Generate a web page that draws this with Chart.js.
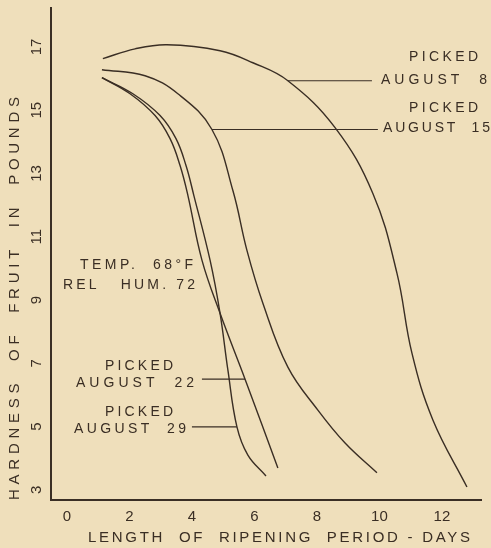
<!DOCTYPE html>
<html>
<head>
<meta charset="utf-8">
<script src="https://cdn.jsdelivr.net/npm/chart.js@4"></script>
<style>
  html, body { margin: 0; padding: 0; background: #efdfbb; }
  canvas { display: block; }
</style>
</head>
<body>
<canvas id="chart" width="491" height="548"></canvas>
<script>
// hardness curves (days of ripening, pounds)
const aug8Days = [1.15, 2.18, 3.2, 4.9, 5.95, 7.07, 8.58, 9.79, 10.56, 11.04, 11.71, 12.8];
const aug8Hardness = [16.63, 16.94, 17.07, 16.88, 16.5, 15.93, 14.45, 12.37, 9.85, 7.32, 5.21, 3.09];

const aug15Days = [1.12, 2.5, 3.55, 4.64, 5.31, 5.76, 6.27, 7.07, 8.03, 8.9, 9.92];
const aug15Hardness = [16.28, 16.09, 15.52, 14.39, 12.46, 10.57, 8.9, 6.88, 5.52, 4.48, 3.54];

const aug22Days = [1.12, 2.02, 2.82, 3.3, 3.62, 3.87, 4.32, 4.9, 5.7, 6.75];
const aug22Hardness = [16.03, 15.52, 14.83, 14.1, 13.25, 12.31, 10.26, 8.58, 6.5, 3.69];

const aug29Days = [1.12, 2.11, 2.98, 3.49, 3.81, 4.06, 4.58, 4.9, 5.15, 5.44, 5.79, 6.37];
const aug29Hardness = [16.03, 15.52, 14.83, 14.1, 13.25, 12.31, 10.26, 8.58, 6.79, 4.99, 4.1, 3.44];

// leader lines from each curve to its label
const leaderStart = [7.07, 4.64, 4.32, 4.0];
const leaderEnd = [9.76, 9.95, 5.7, 5.44];
const leaderHardness = [15.93, 14.39, 6.5, 4.99];

const xTicks = [0, 2, 4, 6, 8, 10, 12];
const yTicks = [3, 5, 7, 9, 11, 13, 15, 17];

const INK = "#3a2e24";
const FONT = "'Liberation Sans', Arial, sans-serif";

const pts = (xs, ys) => xs.map((x, i) => ({ x, y: ys[i] }));
const curve = (data) => ({ data, borderColor: INK, borderWidth: 1.4, pointRadius: 0, tension: 0.4, fill: false });

const datasets = [
  curve(pts(aug8Days, aug8Hardness)),
  curve(pts(aug15Days, aug15Hardness)),
  curve(pts(aug22Days, aug22Hardness)),
  curve(pts(aug29Days, aug29Hardness)),
];
leaderStart.forEach((s, i) => {
  datasets.push({ data: [{ x: s, y: leaderHardness[i] }, { x: leaderEnd[i], y: leaderHardness[i] }],
    borderColor: INK, borderWidth: 1.2, pointRadius: 0, tension: 0 });
});

// spread the letters so the text fills the given width
function fitText(ctx, text, x, y, w, size) {
  ctx.font = `${size}px ${FONT}`;
  ctx.letterSpacing = "0px";
  const raw = ctx.measureText(text).width;
  const sp = Math.max(0, (w - raw) / (text.length - 1));
  ctx.letterSpacing = sp + "px";
  ctx.textAlign = "left";
  ctx.textBaseline = "middle";
  ctx.fillText(text, x, y);
  ctx.letterSpacing = "0px";
}

const notes = [
  { t: "PICKED", x: 409, y: 57, w: 69, s: 14 },
  { t: "AUGUST  8", x: 381, y: 80, w: 106, s: 14 },
  { t: "PICKED", x: 409, y: 108, w: 69, s: 14 },
  { t: "AUGUST  15", x: 383, y: 128, w: 107, s: 14 },
  { t: "TEMP.  68°F", x: 80, y: 265, w: 113, s: 14 },
  { t: "REL   HUM. 72", x: 63, y: 285, w: 132, s: 14 },
  { t: "PICKED", x: 105, y: 366, w: 68, s: 14 },
  { t: "AUGUST  22", x: 76, y: 383, w: 118, s: 14 },
  { t: "PICKED", x: 105, y: 412, w: 68, s: 14 },
  { t: "AUGUST  29", x: 74, y: 429, w: 112, s: 14 },
];

const paper = {
  id: "paper",
  beforeDraw(chart) {
    const c = chart.ctx;
    c.save();
    c.fillStyle = "#efdfbb";
    c.fillRect(0, 0, chart.width, chart.height);
    c.restore();
  },
  afterDraw(chart) {
    const c = chart.ctx, xs = chart.scales.x, ys = chart.scales.y;
    c.save();
    c.fillStyle = INK;
    notes.forEach(n => fitText(c, n.t, n.x, n.y, n.w, n.s));

    c.font = `15px ${FONT}`;
    c.textAlign = "center";
    c.textBaseline = "middle";
    xTicks.forEach(v => c.fillText(String(v), xs.getPixelForValue(v), 517));
    fitText(c, "LENGTH  OF  RIPENING  PERIOD - DAYS", 88, 538, 382, 15);

    yTicks.forEach(v => {
      c.save();
      c.translate(37, ys.getPixelForValue(v));
      c.rotate(-Math.PI / 2);
      c.font = `15px ${FONT}`;
      c.textAlign = "center";
      c.textBaseline = "middle";
      c.fillText(String(v), 0, 0);
      c.restore();
    });
    c.save();
    c.translate(15, 500);
    c.rotate(-Math.PI / 2);
    fitText(c, "HARDNESS  OF  FRUIT  IN  POUNDS", 0, 0, 403, 15);
    c.restore();
    c.restore();
  }
};

new Chart(document.getElementById("chart"), {
  type: "line",
  data: { datasets },
  options: {
    responsive: false,
    animation: false,
    devicePixelRatio: 1,
    layout: { padding: { top: 8, right: 10, left: 0, bottom: 0 } },
    plugins: { legend: { display: false }, tooltip: { enabled: false } },
    scales: {
      x: {
        type: "linear", min: -0.51, max: 13.25,
        grid: { display: false, drawTicks: false },
        border: { display: true, color: INK, width: 2 },
        ticks: { display: false },
        afterFit: s => { s.height = 48; }
      },
      y: {
        type: "linear", min: 2.68, max: 18.23,
        grid: { display: false, drawTicks: false },
        border: { display: true, color: INK, width: 2 },
        ticks: { display: false },
        afterFit: s => { s.width = 51; }
      }
    }
  },
  plugins: [paper]
});
</script>
</body>
</html>
